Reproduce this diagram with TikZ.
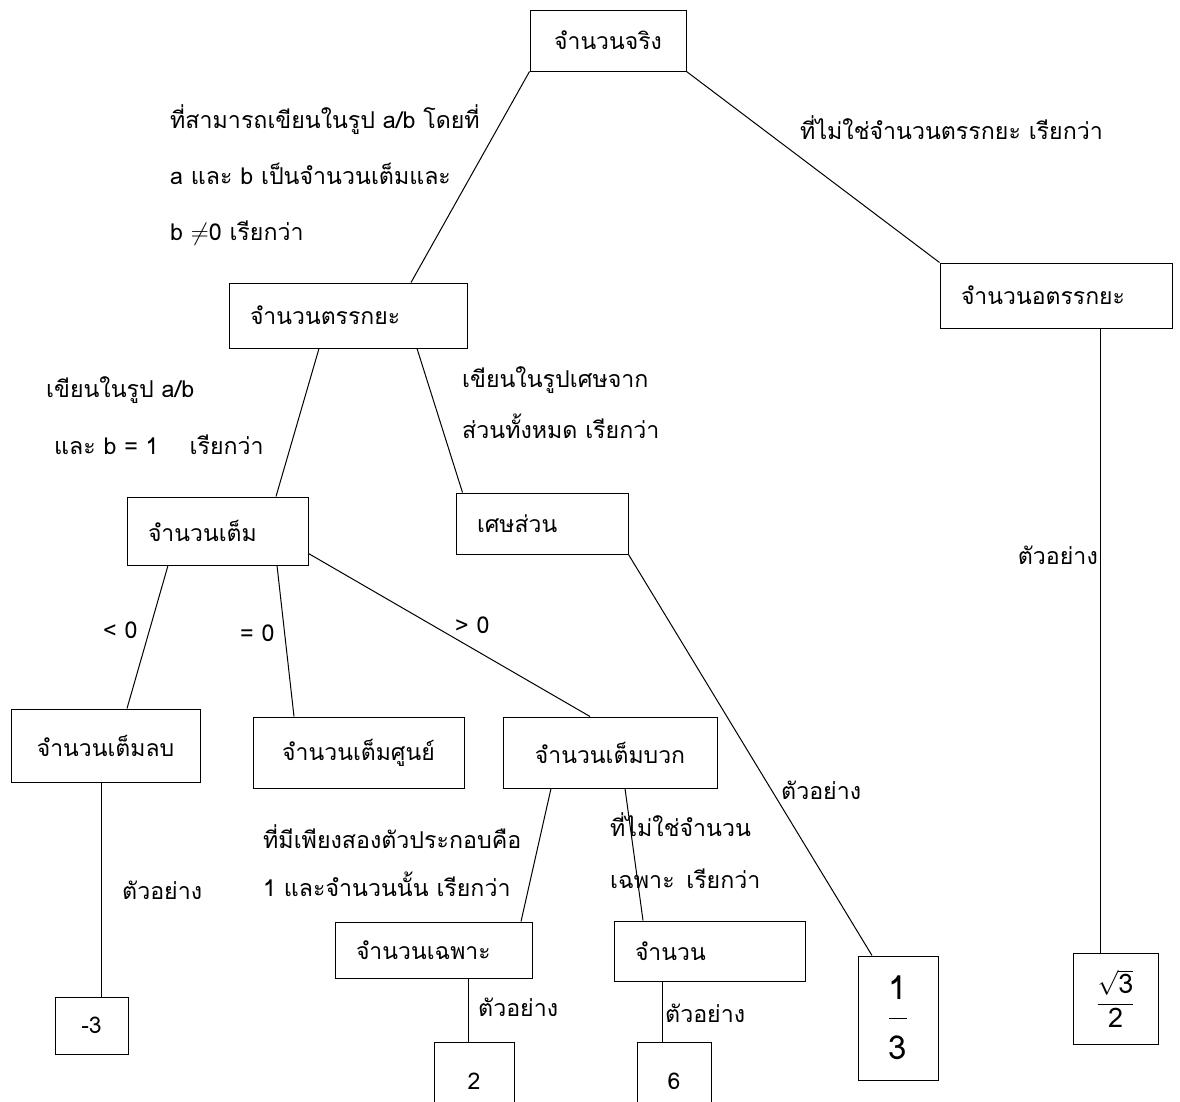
\documentclass[tikz,border=0pt]{standalone}
\usepackage{fontspec}
\setmainfont[Script=Thai]{Loma}

\begin{document}
\begin{tikzpicture}[x=1pt,y=-1pt,
    cbox/.style={draw, line width=1pt, inner sep=0pt, font=\fontsize{23}{28}\selectfont},
    lbox/.style={cbox, align=left, inner xsep=21pt},
    note/.style={anchor=west, inner sep=0pt, align=left, font=\fontsize{23.2}{#1}\selectfont},
    note/.default=52pt,
    link/.style={line width=1pt}]
    \useasboundingbox (0,0) rectangle (1180,1101);

    % boxes
    \node[cbox, minimum width=156pt, minimum height=61pt] (real) at (608,40.5) {จำนวนจริง};
    \node[lbox, text width=190pt, minimum height=65pt] (irr) at (1056,295.5) {จำนวนอตรรกยะ};
    \node[lbox, text width=196pt, minimum height=65pt] (rat) at (348,315.5) {จำนวนตรรกยะ};
    \node[lbox, text width=139pt, minimum height=68pt] (int) at (217.5,531) {จำนวนเต็ม};
    \node[lbox, text width=130pt, minimum height=61pt] (frac) at (542,523.5) {เศษส่วน};
    \node[cbox, minimum width=189pt, minimum height=73pt] (neg) at (105.5,745.5) {จำนวนเต็มลบ};
    \node[cbox, minimum width=211pt, minimum height=71pt] (zero) at (358.5,752.5) {จำนวนเต็มศูนย์};
    \node[cbox, minimum width=214pt, minimum height=71pt] (pos) at (610,752.5) {จำนวนเต็มบวก};
    \node[lbox, text width=155pt, minimum height=56pt] (prime) at (433.5,950) {จำนวนเฉพาะ};
    \node[lbox, text width=149pt, minimum height=60pt] (comp) at (709.5,951) {จำนวน};

    % examples
    \node[cbox, minimum width=73pt, minimum height=57pt] (exneg) at (91.5,1025.5) {-3};
    \node[cbox, minimum width=80pt, minimum height=78pt] (exprime) at (474,1081) {2};
    \node[cbox, minimum width=74pt, minimum height=78pt] (excomp) at (674,1081) {6};
    \node[cbox, minimum width=80pt, minimum height=124pt] (exfrac) at (898,1018)
        {\fontsize{33}{38}\selectfont$\displaystyle\frac{\rule[-17pt]{0pt}{17pt}\mbox{1}}{\rule{0pt}{40pt}\mbox{3}}$};
    \node[cbox, minimum width=85pt, minimum height=91pt] (exirr) at (1115.5,998.5)
        {\fontsize{27}{30}\selectfont$\displaystyle\frac{\sqrt{\mbox{3}}}{\mbox{2}}$};

    % connectors
    \draw[link] (real.south west) -- ([xshift=63pt]rat.north);
    \draw[link] (real.south east) -- (irr.north west);
    \draw[link] ([xshift=-29pt]rat.south) -- ([xshift=58.5pt]int.north);
    \draw[link] ([xshift=69pt]rat.south) -- ([xshift=7pt]frac.north west);
    \draw[link] (frac.south east) -- ([xshift=-26pt]exfrac.north);
    \draw[link] ([xshift=44pt]irr.south) -- ([xshift=-15.5pt]exirr.north);
    \draw[link] ([xshift=-49.5pt]int.south) -- ([xshift=21.5pt]neg.north);
    \draw[link] ([xshift=59.5pt]int.south) -- ([xshift=-64.5pt]zero.north);
    \draw[link] ([yshift=12pt]int.south east) -- ([xshift=-20pt]pos.north);
    \draw[link] ([xshift=-4.5pt]neg.south) -- ([xshift=9.5pt]exneg.north);
    \draw[link] ([xshift=-59pt]pos.south) -- ([xshift=87.5pt]prime.north);
    \draw[link] ([xshift=15pt]pos.south) -- ([xshift=-66.5pt]comp.north);
    \draw[link] ([xshift=34.5pt]prime.south) -- ([xshift=-6pt]exprime.north);
    \draw[link] ([xshift=-47.5pt]comp.south) -- ([xshift=-12pt]excomp.north);

    % labels
    \node[note=56pt] (ratnote) at (170,175) {ที่สามารถเขียนในรูป a/b โดยที่\\a และ b เป็นจำนวนเต็มและ\\b $\neq$0 เรียกว่า};
    \node[note] (irrnote) at (800,128) {ที่ไม่ใช่จำนวนตรรกยะ เรียกว่า};
    \node[note] (intnote) at (46,390) {เขียนในรูป a/b};
    \node[note] (intnoteb) at (54,445) {และ b = 1\quad\ เรียกว่า};
    \node[note=51pt] (fracnote) at (462,403) {เขียนในรูปเศษจาก\\ส่วนทั้งหมด เรียกว่า};
    \node[note] (lt) at (103,630) {< 0};
    \node[note] (eq) at (240,633) {= 0};
    \node[note] (gt) at (455,625) {> 0};
    \node[note=48pt] (primenote) at (263,861) {ที่มีเพียงสองตัวประกอบคือ\\1 และจำนวนนั้น เรียกว่า};
    \node[note] (compnote) at (610,851) {ที่ไม่ใช่จำนวน\\เฉพาะ\enspace เรียกว่า};
    \node[note] (exa) at (122,890) {ตัวอย่าง};
    \node[note] (exb) at (781,790) {ตัวอย่าง};
    \node[note, anchor=east] (exc) at (1098,555) {ตัวอย่าง};
    \node[note] (exd) at (478,1007) {ตัวอย่าง};
    \node[note] (exe) at (665,1013) {ตัวอย่าง};
\end{tikzpicture}
\end{document}
